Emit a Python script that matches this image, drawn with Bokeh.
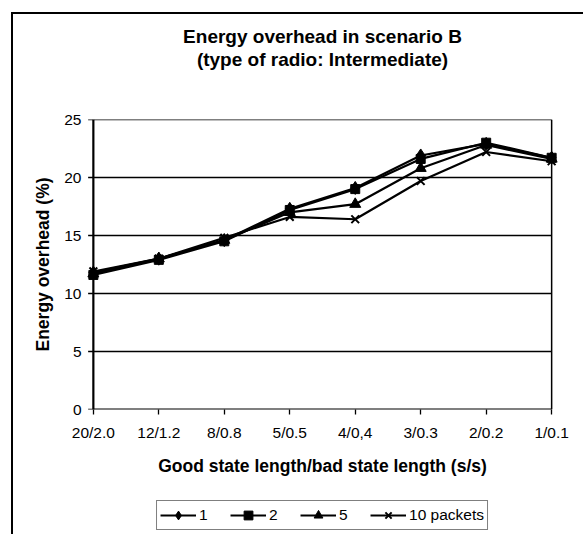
from bokeh.plotting import figure
from bokeh.layouts import column
from bokeh.models import Range1d, FixedTicker, Legend, LegendItem, Title
from bokeh.embed import file_html
from bokeh.resources import INLINE

# ---- data ----
categories = ["20/2.0", "12/1.2", "8/0.8", "5/0.5", "4/0,4", "3/0.3", "2/0.2", "1/0.1"]
series_names = ["1", "2", "5", "10 packets"]
s1 = [11.8, 13.0, 14.6, 17.3, 19.1, 21.9, 22.9, 21.7]
s2 = [11.6, 12.9, 14.5, 17.2, 19.0, 21.6, 23.0, 21.7]
s5 = [11.7, 13.0, 14.6, 17.0, 17.7, 20.8, 22.8, 21.6]
s10 = [11.9, 13.0, 14.8, 16.6, 16.4, 19.7, 22.2, 21.4]
y_ticks = [0, 5, 10, 15, 20, 25]

FONT = "Liberation Sans"
x = list(range(len(categories)))
x_last = x[-1]
y_top = y_ticks[-1]
pad = 0.12
series = [s1, s2, s5, s10]
markers = [("diamond", 13), ("square", 9), ("triangle", 11), ("x", 11)]

p = figure(width=570, height=486, output_backend="svg", toolbar_location=None,
           x_range=Range1d(-pad, x_last + pad), y_range=Range1d(0, y_top),
           min_border_left=72, min_border_right=24, min_border_top=105, min_border_bottom=91)
p.outline_line_color = None
p.xgrid.visible = False
p.ygrid.visible = False
p.background_fill_color = "white"
p.border_fill_color = "white"

# gridlines and plot-area border
p.segment(x0=[0] * (len(y_ticks) - 1), x1=[x_last] * (len(y_ticks) - 1),
          y0=y_ticks[1:], y1=y_ticks[1:], line_color="black", line_width=1.3)
p.segment(x0=[x_last], x1=[x_last], y0=[0], y1=[y_top], line_color="black", line_width=1.5)
# axis lines
p.segment(x0=[0], x1=[x_last], y0=[0], y1=[0], line_color="black", line_width=2.2)
p.segment(x0=[0], x1=[0], y0=[0], y1=[y_top], line_color="black", line_width=2.2)
# y tick marks
p.segment(x0=[-0.08] * len(y_ticks), x1=[0] * len(y_ticks), y0=y_ticks, y1=y_ticks,
          line_color="black", line_width=1.3)

for vals, (mk, sz) in zip(series, markers):
    p.line(x, vals, line_color="black", line_width=2.2)
    p.scatter(x, vals, marker=mk, size=sz, fill_color="black", line_color="black",
              line_width=2 if mk == "x" else 1)

# axes
xa = p.xaxis[0]
xa.ticker = FixedTicker(ticks=x)
xa.major_label_overrides = {i: c for i, c in zip(x, categories)}
xa.axis_line_color = None
xa.major_tick_out = 5
xa.major_tick_in = 0
xa.major_tick_line_width = 1.3
xa.minor_tick_line_color = None
xa.major_label_text_font = FONT
xa.major_label_text_font_size = "15.5px"
xa.major_label_text_color = "black"
xa.major_label_standoff = 9
xa.axis_label = "Good state length/bad state length (s/s)"
xa.axis_label_text_font = FONT
xa.axis_label_text_font_style = "bold"
xa.axis_label_text_font_size = "17.5px"
xa.axis_label_text_color = "black"
xa.axis_label_standoff = 12

ya = p.yaxis[0]
ya.ticker = FixedTicker(ticks=y_ticks)
ya.axis_line_color = None
ya.major_tick_out = 0
ya.major_tick_in = 0
ya.minor_tick_line_color = None
ya.major_label_text_font = FONT
ya.major_label_text_font_size = "15.5px"
ya.major_label_text_color = "black"
ya.major_label_standoff = 4
ya.axis_label = "Energy overhead (%)"
ya.axis_label_text_font = FONT
ya.axis_label_text_font_style = "bold"
ya.axis_label_text_font_size = "17.5px"
ya.axis_label_text_color = "black"
ya.axis_label_standoff = 8

# above: blank spacer (closest to frame), then the two title lines
p.add_layout(Title(text=" ", text_font_size="1px", standoff=47, text_color="white"), "above")
t2 = Title(text="(type of radio: Intermediate)", align="center", text_color="black",
           text_font=FONT, text_font_style="bold", text_font_size="19px", standoff=0)
t1 = Title(text="Energy overhead in scenario B", align="center", text_color="black",
           text_font=FONT, text_font_style="bold", text_font_size="19px", standoff=0)
p.add_layout(t2, "above")
p.add_layout(t1, "above")

# legend strip below the chart (same series, drawn out of view; only the key shows)
lf = figure(width=570, height=34, output_backend="svg", toolbar_location=None,
            x_range=Range1d(-100, -99), y_range=Range1d(-100, -99),
            x_axis_location=None, y_axis_location=None,
            min_border_left=72, min_border_right=24, min_border_top=0, min_border_bottom=0)
lf.outline_line_color = None
lf.xgrid.visible = False
lf.ygrid.visible = False
lf.background_fill_color = "white"
lf.border_fill_color = "white"
items = []
for name, vals, (mk, sz) in zip(series_names, series, markers):
    lr = lf.line(x, vals, line_color="black", line_width=2.2)
    sr = lf.scatter(x, vals, marker=mk, size=sz, fill_color="black", line_color="black",
                    line_width=2 if mk == "x" else 1)
    items.append(LegendItem(label=name, renderers=[lr, sr]))
legend = Legend(items=items, orientation="horizontal", location="bottom_center",
                border_line_color="black", border_line_width=1.5,
                label_text_font=FONT, label_text_font_size="15.5px", label_text_color="black",
                glyph_width=36, glyph_height=22, label_height=22,
                label_standoff=3, spacing=11, padding=3, margin=4,
                background_fill_color="white", background_fill_alpha=1)
lf.add_layout(legend, "center")

layout = column(p, lf, spacing=0)
layout.margin = (12, 0, 0, 11)
layout.styles = {"border-left": "2px solid black", "border-top": "2px solid black"}

open("out.html", "w").write(file_html(layout, INLINE))
